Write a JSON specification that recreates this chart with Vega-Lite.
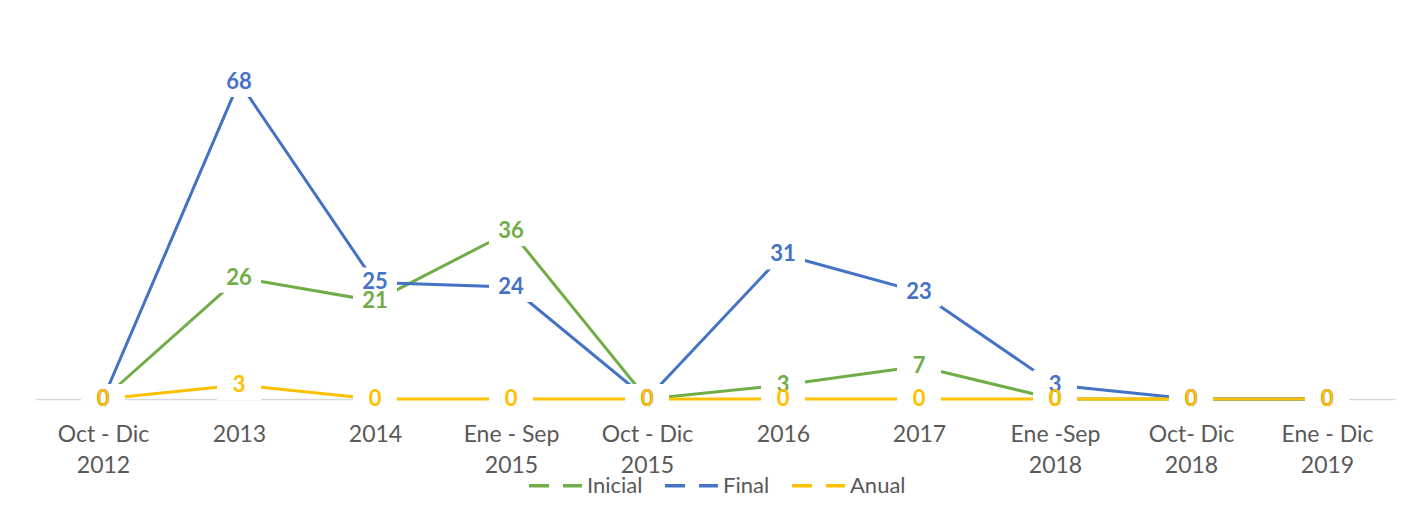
{
  "$schema": "https://vega.github.io/schema/vega-lite/v6.json",
  "width": 1360,
  "height": 373,
  "autosize": "none",
  "padding": {"left": 35, "top": 26, "right": 9, "bottom": 120},
  "background": "white",
  "config": {"view": {"stroke": null}, "font": "Lato"},
  "data": {"values": [
    {"periodo": "Oct - Dic 2012", "serie": "Inicial", "valor": 0},
    {"periodo": "2013", "serie": "Inicial", "valor": 26},
    {"periodo": "2014", "serie": "Inicial", "valor": 21},
    {"periodo": "Ene - Sep 2015", "serie": "Inicial", "valor": 36},
    {"periodo": "Oct - Dic 2015", "serie": "Inicial", "valor": 0},
    {"periodo": "2016", "serie": "Inicial", "valor": 3},
    {"periodo": "2017", "serie": "Inicial", "valor": 7},
    {"periodo": "Ene -Sep 2018", "serie": "Inicial", "valor": 0},
    {"periodo": "Oct- Dic 2018", "serie": "Inicial", "valor": 0},
    {"periodo": "Ene - Dic 2019", "serie": "Inicial", "valor": 0},
    {"periodo": "Oct - Dic 2012", "serie": "Final", "valor": 0},
    {"periodo": "2013", "serie": "Final", "valor": 68},
    {"periodo": "2014", "serie": "Final", "valor": 25},
    {"periodo": "Ene - Sep 2015", "serie": "Final", "valor": 24},
    {"periodo": "Oct - Dic 2015", "serie": "Final", "valor": 0},
    {"periodo": "2016", "serie": "Final", "valor": 31},
    {"periodo": "2017", "serie": "Final", "valor": 23},
    {"periodo": "Ene -Sep 2018", "serie": "Final", "valor": 3},
    {"periodo": "Oct- Dic 2018", "serie": "Final", "valor": 0},
    {"periodo": "Ene - Dic 2019", "serie": "Final", "valor": 0},
    {"periodo": "Oct - Dic 2012", "serie": "Anual", "valor": 0},
    {"periodo": "2013", "serie": "Anual", "valor": 3},
    {"periodo": "2014", "serie": "Anual", "valor": 0},
    {"periodo": "Ene - Sep 2015", "serie": "Anual", "valor": 0},
    {"periodo": "Oct - Dic 2015", "serie": "Anual", "valor": 0},
    {"periodo": "2016", "serie": "Anual", "valor": 0},
    {"periodo": "2017", "serie": "Anual", "valor": 0},
    {"periodo": "Ene -Sep 2018", "serie": "Anual", "valor": 0},
    {"periodo": "Oct- Dic 2018", "serie": "Anual", "valor": 0},
    {"periodo": "Ene - Dic 2019", "serie": "Anual", "valor": 0}
  ]},
  "encoding": {
    "x": {
      "field": "periodo",
      "type": "nominal",
      "sort": null,
      "scale": {"type": "point", "padding": 0.5},
      "axis": {
        "title": null,
        "labelAngle": 0,
        "ticks": false,
        "domainColor": "#d9d9d9",
        "domainWidth": 1.5,
        "labelColor": "#595959",
        "labelFont": "Lato",
        "labelFontSize": 23,
        "labelLineHeight": 31,
        "labelPadding": 24,
        "labelBaseline": "top",
        "labelExpr": "length(datum.label) > 4 ? [slice(datum.label, 0, lastindexof(datum.label, ' ')), slice(datum.label, lastindexof(datum.label, ' ') + 1)] : datum.label"
      }
    },
    "y": {"field": "valor", "type": "quantitative", "scale": {"domain": [0, 80]}, "axis": null}
  },
  "layer": [
    {
      "mark": {"type": "line", "strokeWidth": 3},
      "encoding": {
        "color": {
          "field": "serie",
          "type": "nominal",
          "sort": null,
          "scale": {"domain": ["Inicial", "Final", "Anual"], "range": ["#70AD47", "#4472C4", "#FFC000"]},
          "legend": {
            "orient": "none",
            "legendX": 492,
            "legendY": 431,
            "direction": "horizontal",
            "title": null,
            "symbolType": "stroke",
            "symbolSize": 2800,
            "symbolStrokeWidth": 3.5,
            "symbolDash": [20, 14],
            "labelFont": "Lato",
            "labelFontSize": 22,
            "labelColor": "#595959",
            "labelOffset": 3,
            "columnPadding": 15
          }
        }
      }
    },
    {
      "mark": {"type": "point", "shape": "M-1,-0.68H1V0.68H-1Z", "filled": true, "fill": "white", "opacity": 1, "size": 1936, "strokeWidth": 0}
    },
    {
      "mark": {"type": "text", "fontWeight": "bold", "fontSize": 22, "font": "Lato"},
      "encoding": {
        "text": {"field": "valor", "type": "quantitative"},
        "color": {"field": "serie", "type": "nominal", "sort": null, "scale": {"domain": ["Inicial", "Final", "Anual"], "range": ["#70AD47", "#4472C4", "#FFC000"]}, "legend": null}
      }
    }
  ]
}
